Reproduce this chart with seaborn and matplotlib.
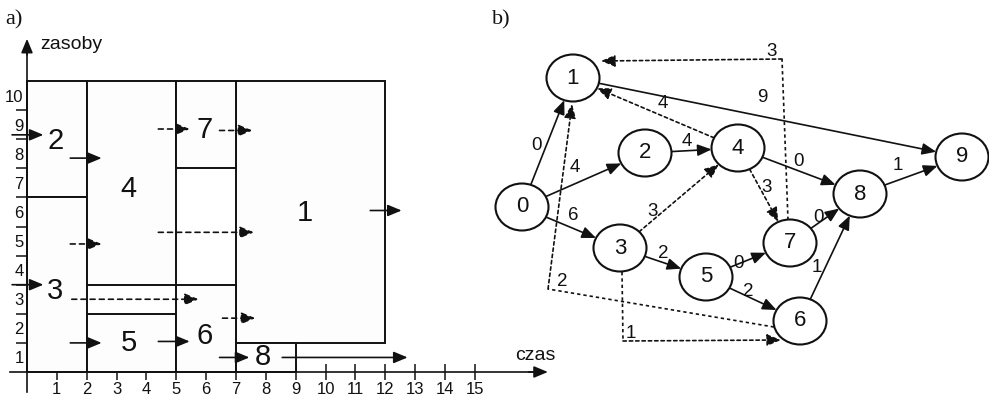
import numpy as np
import matplotlib
matplotlib.use("Agg")
import matplotlib.pyplot as plt
from matplotlib.patches import Ellipse
import seaborn as sns

sns.set_theme(style="white")
plt.rcParams["font.family"] = ["Liberation Sans", "DejaVu Sans"]

# ─── a) harmonogram: zadania na osi czas / zasoby ─────────────────────────────
TASKS   = [1, 2, 3, 4, 5, 6, 7, 8]
T_START = [7, 0, 0, 2, 2, 5, 5, 7]
T_END   = [12, 2, 2, 5, 5, 7, 7, 9]
R_LOW   = [1, 6, 0, 3, 0, 0, 7, 0]
R_HIGH  = [10, 10, 6, 10, 2, 3, 10, 1]
TIME_TICKS = list(range(1, 16))
RES_TICKS  = list(range(1, 11))

# where the task number sits (czas, zasoby)
LBL_T = [9.3, 0.95, 0.95, 3.4, 3.4, 5.95, 5.95, 7.9]
LBL_R = [5.45, 7.95, 2.8, 6.3, 1.0, 1.25, 8.3, 0.5]

# small dependency arrows of panel a: from t0 to t1 at height r
ARR_T0 = [-0.5, 1.45, -0.5, 1.45, 4.4, 6.45, 8.55, 11.5, 4.4, 6.45, 1.45, 4.4, 1.5, 6.55]
ARR_T1 = [0.55, 2.5, 0.55, 2.5, 5.45, 7.45, 12.75, 12.55, 5.45, 7.55, 2.5, 7.6, 5.75, 7.65]
ARR_R  = [8.15, 7.35, 3.0, 1.0, 1.05, 0.5, 0.5, 5.55, 8.35, 8.3, 4.4, 4.8, 2.5, 1.85]
ARR_SOLID = [True] * 8 + [False] * 6

# ─── b) sieć: węzły i łuki z wagami ───────────────────────────────────────────
NODES = list(range(10))
EDGE_FROM = [0, 0, 0, 2, 1, 4, 8, 3, 5, 5, 7, 6, 4, 7, 4, 3, 6, 3]
EDGE_TO   = [1, 2, 3, 4, 9, 8, 9, 5, 7, 6, 8, 8, 1, 1, 7, 4, 1, 6]
EDGE_W    = [0, 4, 6, 4, 9, 0, 1, 2, 0, 2, 0, 1, 4, 3, 3, 3, 2, 1]
EDGE_DOTTED = [False] * 12 + [True] * 6

# layout of panel b (pixel coordinates)
NODE_XY = {0: (522, 207), 1: (573, 78), 2: (645, 153), 3: (620, 248), 4: (738, 148),
           5: (706, 277), 6: (800, 321), 7: (790, 243), 8: (860, 194), 9: (962, 157)}
W_XY = [(537, 145), (575, 168), (573, 215), (687, 142), (762, 98), (799, 162),
        (898, 166), (663, 253), (738, 263), (748, 291), (818, 218), (817, 268),
        (663, 103), (772, 51), (767, 188), (653, 212), (562, 282), (631, 333)]
ROUTES = {(7, 1): [(788, 220), (782, 59), (601, 61)],
          (6, 1): [(774, 327), (548, 289), (572, 104)],
          (3, 6): [(622, 272), (623, 341), (781, 340)]}

INK = "#111111"
DOTS_B = (0, (2, 1.8))
DASH_A = (0, (3, 2.5))
HEAD = "-|>,head_length=0.6,head_width=0.25"


def arrow(ax, p0, p1, ls="-", lw=1.2):
    ax.annotate("", xy=p1, xytext=p0,
                arrowprops=dict(arrowstyle=HEAD, color=INK, lw=lw, mutation_scale=14,
                                shrinkA=0, shrinkB=0, linestyle=ls))


def rim(n, toward, a=26.5, b=23.5):
    cx, cy = NODE_XY[n]
    dx, dy = toward[0] - cx, toward[1] - cy
    k = 1.0 / np.hypot(dx / a, dy / b)
    return cx + dx * k, cy + dy * k


fig = plt.figure(figsize=(9.89, 3.95), dpi=100)

# ══════════════════════════════════════════════════════════════════════════════
# a)
# ══════════════════════════════════════════════════════════════════════════════
ax = fig.add_axes([0, 0, 600 / 989, 1])
ax.set_facecolor("none")
ax.set_xlim(-27 / 29.85, (600 - 27) / 29.85)
ax.set_ylim(-23 / 29.1, 372 / 29.1)

ax.bar(T_START, np.subtract(R_HIGH, R_LOW), width=np.subtract(T_END, T_START),
       bottom=R_LOW, align="edge", color="#fdfdfd", edgecolor=INK, linewidth=1.4, zorder=2)
for task, t, r in zip(TASKS, LBL_T, LBL_R):
    ax.text(t, r, str(task), fontsize=21, ha="center", va="center", color=INK, zorder=4)

for t0, t1, r, solid in zip(ARR_T0, ARR_T1, ARR_R, ARR_SOLID):
    arrow(ax, (t0, r), (t1, r), ls="-" if solid else DASH_A)

for side in ("top", "right"):
    ax.spines[side].set_visible(False)
ax.spines["left"].set_position(("data", 0))
ax.spines["bottom"].set_position(("data", 0))
ax.spines["left"].set_bounds(-0.7, 11.2)
ax.spines["bottom"].set_bounds(-0.57, 17.1)
for side in ("left", "bottom"):
    ax.spines[side].set_color(INK)
    ax.spines[side].set_linewidth(1.2)
    ax.spines[side].set_zorder(3)
arrow(ax, (0, 10.9), (0, 11.45))
arrow(ax, (16.8, 0), (17.45, 0))

ax.set_xticks(TIME_TICKS)
ax.set_xticklabels([str(v) for v in TIME_TICKS])
ax.tick_params(axis="x", bottom=True, direction="inout", length=12, width=1.1,
               pad=1, labelsize=12, colors=INK)
ax.set_yticks(RES_TICKS[:-1])
ax.set_yticklabels([])
ax.set_yticks(np.array(RES_TICKS) - 0.5, minor=True)
ax.set_yticklabels([str(v) for v in RES_TICKS], minor=True)
ax.tick_params(axis="y", which="major", left=True, direction="out", length=8,
               width=1.1, colors=INK)
ax.tick_params(axis="y", which="minor", left=True, length=0, pad=2.5, labelsize=12,
               labelcolor=INK)

ax.text(0.45, 11.25, "zasoby", fontsize=14, ha="left", va="center", color=INK)
ax.text(16.35, 0.55, "czas", fontsize=14, ha="left", va="center", color=INK)

# ══════════════════════════════════════════════════════════════════════════════
# b)
# ══════════════════════════════════════════════════════════════════════════════
bx = fig.add_axes([480 / 989, 0, 509 / 989, 1])
bx.set_facecolor("none")
bx.set_xlim(480, 989)
bx.set_ylim(395, 0)
bx.axis("off")

for src, dst, w, dotted, (lx, ly) in zip(EDGE_FROM, EDGE_TO, EDGE_W, EDGE_DOTTED, W_XY):
    ls = DOTS_B if dotted else "-"
    if (src, dst) in ROUTES:
        pts = ROUTES[(src, dst)]
        xs, ys = zip(*pts[:-1])
        bx.plot(xs, ys, color=INK, lw=1.2, linestyle=ls, zorder=2)
        arrow(bx, pts[-2], pts[-1], ls=ls)
    else:
        arrow(bx, rim(src, NODE_XY[dst]), rim(dst, NODE_XY[src]), ls=ls)
    bx.text(lx, ly, str(w), fontsize=13.5, ha="center", va="center", color=INK, zorder=4)

for n in NODES:
    bx.add_patch(Ellipse(NODE_XY[n], 53, 47, facecolor="white", edgecolor=INK,
                         lw=1.5, zorder=3))
    bx.text(*NODE_XY[n], str(n), fontsize=16, ha="center", va="center", color=INK, zorder=4)

fig.text(5 / 989, 1 - 20 / 395, "a)", fontsize=16, family="Liberation Serif",
         ha="left", va="center", color=INK)
fig.text(492 / 989, 1 - 20 / 395, "b)", fontsize=16, family="Liberation Serif",
         ha="left", va="center", color=INK)

fig.savefig("out.png", dpi=100)
